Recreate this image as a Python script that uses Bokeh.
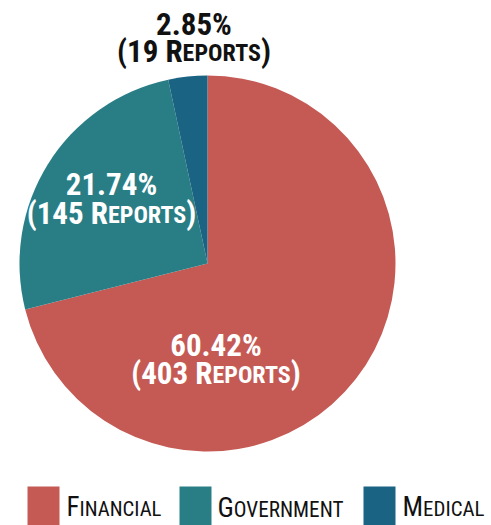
import math
from bokeh.plotting import figure
from bokeh.models import Range1d, ColumnDataSource, CustomJS
from bokeh.core.properties import value
from bokeh.events import DocumentReady
from bokeh.io import curdoc
from bokeh.embed import file_html
from bokeh.resources import INLINE

# ---- data ----
categories = ["Financial", "Government", "Medical"]
reports = [403, 145, 19]
percent_labels = ["60.42%", "21.74%", "2.85%"]
colors = ["#C55A55", "#297E86", "#1B6383"]

# ---- layout (page pixels, figure fills the page) ----
W, H = 491, 525
FONT = "Roboto Condensed"
BIG, SMALL = 31, 24
LEG_BIG, LEG_SMALL = 30, 23
BASE_SHIFT = 0.30  # baseline correction, fraction of font size


def dy(py):
    return H - py


def est_width(s, size):
    return len(s) * 0.52 * size


p = figure(width=W, height=H, x_range=Range1d(0, W), y_range=Range1d(0, H),
           output_backend="svg", toolbar_location=None, min_border=0)
p.axis.visible = False
p.grid.visible = False
p.outline_line_color = None
p.background_fill_color = "white"
p.border_fill_color = "white"

cx, cy, r = 207, dy(263), 188
total = sum(reports)
cum = 0
starts, ends = [], []
for v in reports:
    starts.append(math.pi / 2 - 2 * math.pi * cum / total)
    cum += v
    ends.append(math.pi / 2 - 2 * math.pi * cum / total)
p.wedge(x=[cx] * 3, y=[cy] * 3, radius=r, start_angle=starts, end_angle=ends,
        direction="clock", fill_color=colors, line_color=None)

rows = dict(x=[], y=[], y0=[], text=[], size=[], style=[], color=[], line=[], anchor=[],
            align=[], maxw=[])


def add_line(line_id, anchor, align, base_y, pieces, color, maxw=1000):
    ws = [est_width(t, s) for t, s, _ in pieces]
    x0 = anchor - sum(ws) / 2 if align == "center" else anchor
    for (t, s, st), w in zip(pieces, ws):
        rows["x"].append(x0)
        rows["y"].append(dy(base_y) + BASE_SHIFT * s)
        rows["y0"].append(dy(base_y))
        rows["text"].append(t)
        rows["size"].append(f"{s}px")
        rows["style"].append(st)
        rows["color"].append(color)
        rows["line"].append(line_id)
        rows["anchor"].append(anchor)
        rows["align"].append(align)
        rows["maxw"].append(maxw)
        x0 += w


label_cx = [215.5, 111, 193.5]
label_base1 = [354, 193, 33]
label_base2 = [382, 222, 60]
label_colors = ["white", "white", "#111111"]

lid = 0
for i in range(3):
    add_line(lid, label_cx[i], "center", label_base1[i], [(percent_labels[i], BIG, "bold")],
             label_colors[i]); lid += 1
    add_line(lid, label_cx[i], "center", label_base2[i],
             [(f"({reports[i]} R", BIG, "bold"), ("EPORTS", SMALL, "bold"), (")", BIG, "bold")],
             label_colors[i]); lid += 1

sq_left = [27, 179, 363]
txt_left = [66, 217, 402]
txt_max = [95, 126, 82]
sq_w = 32
sq_top = 486
for i, name in enumerate(categories):
    p.quad(left=[sq_left[i]], right=[sq_left[i] + sq_w], top=[dy(sq_top)], bottom=[0],
           fill_color=colors[i], line_color=None)
    up = name.upper()
    add_line(lid, txt_left[i], "left", 515,
             [(up[0], LEG_BIG, "normal"), (up[1:], LEG_SMALL, "normal")], "#111111",
             txt_max[i]); lid += 1

src = ColumnDataSource(rows)
p.text(x="x", y="y", text="text", source=src, text_font=value(FONT),
       text_font_size="size", text_font_style="style", text_color="color",
       text_align="left", text_baseline="alphabetic")

fit = CustomJS(args=dict(src=src, font=FONT, k=BASE_SHIFT), code="""
const d = src.data;
const ctx = document.createElement('canvas').getContext('2d');
const n = d.text.length;
const xs = Array.from(d.x);
const ys = Array.from(d.y);
const sizes = Array.from(d.size);
const lines = {};
for (let i = 0; i < n; i++) { (lines[d.line[i]] = lines[d.line[i]] || []).push(i); }
function meas(i, px) {
  ctx.font = `${d.style[i]} ${px}px "${font}"`;
  return ctx.measureText(d.text[i]).width;
}
for (const k2 in lines) {
  const idx = lines[k2];
  let px = idx.map(i => parseFloat(sizes[i]));
  let ws = idx.map((i, j) => meas(i, px[j]));
  let tot = ws.reduce((a, b) => a + b, 0);
  const mw = d.maxw[idx[0]];
  if (tot > mw) {
    const s = mw / tot;
    px = px.map(v => v * s);
    ws = idx.map((i, j) => meas(i, px[j]));
    tot = ws.reduce((a, b) => a + b, 0);
  }
  let x0 = d.align[idx[0]] == 'center' ? d.anchor[idx[0]] - tot / 2 : d.anchor[idx[0]];
  idx.forEach((i, j) => {
    xs[i] = x0; ys[i] = d.y0[i] + k * px[j];
    sizes[i] = px[j].toFixed(2) + 'px'; x0 += ws[j];
  });
}
src.data = Object.assign({}, d, {x: xs, y: ys, size: sizes});
""")

doc = curdoc()
doc.add_root(p)
doc.js_on_event(DocumentReady, fit)

open("out.html", "w").write(file_html(p, INLINE))
